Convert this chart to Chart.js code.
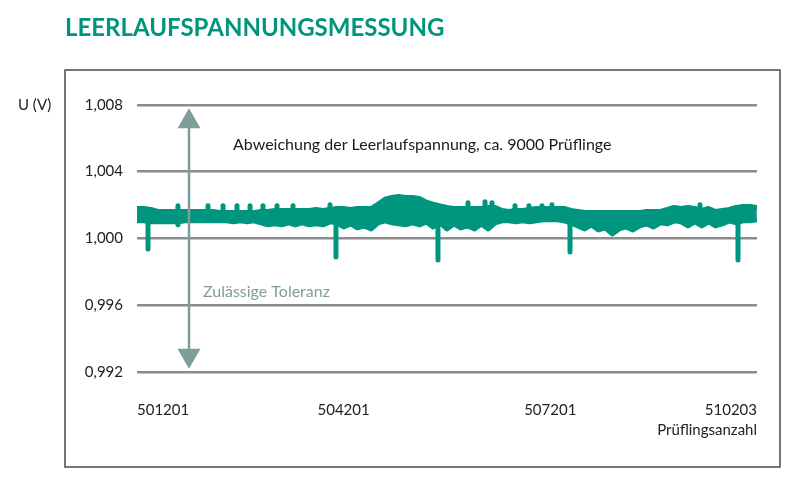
<!DOCTYPE html>
<html lang="de">
<head>
  <meta charset="UTF-8">
  <title>Leerlaufspannungsmessung</title>
  <script src="https://cdn.jsdelivr.net/npm/chart.js"></script>
  <style>
    * { margin: 0; padding: 0; box-sizing: border-box; }
    body { background: #fff; }
    #chart { display: block; }
  </style>
</head>
<body>
  <canvas id="chart" width="800" height="490"></canvas>
  <script>
    // --- data (about 9000 DUTs, min/max per 100-sample bin) ---
    const firstSample = 501201;
    const lastSample = 510203;
    const binSize = 100;

    // upper edge of the noise band per bin (V)
    const bandHigh = [
      1.00179, 1.00179, 1.00173, 1.00161, 1.00161, 1.00161, 1.00161, 1.00161, 1.00161, 1.00161,
      1.00161, 1.00161, 1.00155, 1.00155, 1.00155, 1.00155, 1.00155, 1.00155, 1.00161, 1.00161,
      1.00167, 1.00167, 1.00167, 1.00167, 1.00167, 1.00167, 1.00173, 1.00167, 1.00173, 1.00179,
      1.00179, 1.00173, 1.00179, 1.00179, 1.00179, 1.00205, 1.00235, 1.00245, 1.00251, 1.00245,
      1.00245, 1.00239, 1.00217, 1.00205, 1.00195, 1.00185, 1.00179, 1.00179, 1.00179, 1.00179,
      1.00179, 1.00185, 1.00185, 1.00167, 1.00161, 1.00167, 1.00167, 1.00173, 1.00179, 1.00179,
      1.00179, 1.00179, 1.00179, 1.00167, 1.00161, 1.00155, 1.00155, 1.00155, 1.00155, 1.00155,
      1.00155, 1.00155, 1.00155, 1.00155, 1.00161, 1.00161, 1.00161, 1.00173, 1.00185, 1.00179,
      1.00185, 1.00179, 1.00167, 1.00179, 1.00161, 1.00167, 1.00173, 1.00185, 1.00191, 1.00191,
      1.00185
    ];

    // lower edge of the noise band per bin (V)
    const bandLow = [
      1.00105, 1.00105, 1.00099, 1.00099, 1.00099, 1.00099, 1.00099, 1.00105, 1.00105, 1.00105,
      1.00105, 1.00105, 1.00105, 1.00105, 1.00099, 1.00105, 1.00099, 1.00105, 1.00093, 1.00081,
      1.00087, 1.00081, 1.00093, 1.00081, 1.00093, 1.00081, 1.00087, 1.00081, 1.00099, 1.00093,
      1.00069, 1.00087, 1.00063, 1.00075, 1.00057, 1.00093, 1.00105, 1.00093, 1.00087, 1.00081,
      1.00093, 1.00081, 1.00099, 1.00069, 1.00093, 1.00057, 1.00087, 1.00063, 1.00075, 1.00057,
      1.00087, 1.00057, 1.00093, 1.00105, 1.00105, 1.00099, 1.00105, 1.00099, 1.00105, 1.00111,
      1.00111, 1.00111, 1.00105, 1.00093, 1.00075, 1.00057, 1.00081, 1.00051, 1.00063, 1.00027,
      1.00057, 1.00069, 1.00051, 1.00075, 1.00087, 1.00069, 1.00093, 1.00087, 1.00105, 1.00099,
      1.00075, 1.00099, 1.00075, 1.00099, 1.00075, 1.00087, 1.00105, 1.00093, 1.00105, 1.00105,
      1.00111
    ];

    // single outliers sticking out of the band (sample no., from, to in V)
    const outSample = [
      501361, 504090, 505571, 507488, 509927,
      501796, 501796, 502232, 502450, 502653, 502842, 503030, 503234, 503466,
      504003, 506007, 506254, 506355, 506689, 506892, 507081, 507226, 509375
    ];
    const outFrom = [
      1.0011, 1.0010, 1.0009, 1.0010, 1.0010,
      1.0014, 1.0011, 1.0014, 1.0014, 1.0014, 1.0014, 1.0014, 1.0014, 1.0014,
      1.0015, 1.0015, 1.0015, 1.0015, 1.0014, 1.0015, 1.0015, 1.0015, 1.0015
    ];
    const outTo = [
      0.99937, 0.99889, 0.99871, 0.99919, 0.99871,
      1.00195, 1.00081, 1.00195, 1.00195, 1.00195, 1.00195, 1.00195, 1.00195, 1.00195,
      1.00201, 1.00213, 1.00219, 1.00213, 1.00195, 1.00195, 1.00195, 1.00201, 1.00201
    ];

    const yTicks = [0.992, 0.996, 1.000, 1.004, 1.008];
    const xTicks = [501201, 504201, 507201, 510203];

    // tolerance arrow
    const tolSample = 501956;
    const tolTop = 1.0078;
    const tolBottom = 0.9922;

    const teal = '#00957e';
    const grey = '#7f9e99';

    // build datasets
    const highPts = bandHigh.map((v, i) => ({ x: firstSample + i * binSize, y: v }));
    const lowPts = bandLow.map((v, i) => ({ x: firstSample + i * binSize, y: v }));
    const outPts = [];
    outSample.forEach((s, i) => {
      outPts.push({ x: s, y: outFrom[i] }, { x: s, y: outTo[i] }, { x: s, y: null });
    });

    const lineStyle = {
      borderColor: teal,
      backgroundColor: teal,
      borderWidth: 5,
      borderJoinStyle: 'round',
      borderCapStyle: 'round',
      pointRadius: 0,
      tension: 0
    };

    // frame, y-axis unit, notes and tolerance arrow
    const decor = {
      id: 'decor',
      beforeDraw(chart) {
        const c = chart.ctx;
        c.save();
        c.strokeStyle = '#4a4a4a';
        c.lineWidth = 1.5;
        c.strokeRect(65, 70, 715, 397);
        c.fillStyle = '#222';
        c.font = '15px Lato';
        c.textAlign = 'left';
        c.textBaseline = 'middle';
        c.fillText('U (V)', 18, chart.scales.y.getPixelForValue(1.008));
        c.restore();
      },
      afterDatasetsDraw(chart) {
        const c = chart.ctx;
        const xs = chart.scales.x, ys = chart.scales.y;
        const ax = xs.getPixelForValue(tolSample);
        const top = ys.getPixelForValue(tolTop);
        const bot = ys.getPixelForValue(tolBottom);
        const headH = 20, headW = 11.5;
        c.save();
        c.strokeStyle = grey;
        c.fillStyle = grey;
        c.lineWidth = 2.5;
        c.beginPath();
        c.moveTo(ax, top + headH - 1);
        c.lineTo(ax, bot - headH + 1);
        c.stroke();
        c.beginPath();
        c.moveTo(ax, top);
        c.lineTo(ax + headW, top + headH);
        c.lineTo(ax - headW, top + headH);
        c.closePath();
        c.fill();
        c.beginPath();
        c.moveTo(ax, bot);
        c.lineTo(ax + headW, bot - headH);
        c.lineTo(ax - headW, bot - headH);
        c.closePath();
        c.fill();

        c.font = '16px Lato';
        c.textAlign = 'left';
        c.textBaseline = 'middle';
        c.fillStyle = '#1a1a1a';
        c.fillText('Abweichung der Leerlaufspannung, ca. 9000 Prüflinge',
          xs.getPixelForValue(502595), ys.getPixelForValue(1.00563));
        c.fillStyle = grey;
        c.fillText('Zulässige Toleranz',
          xs.getPixelForValue(502159), ys.getPixelForValue(0.99682));
        c.restore();
      }
    };

    new Chart(document.getElementById('chart'), {
      type: 'line',
      data: {
        datasets: [
          Object.assign({ label: 'max', data: highPts, fill: '+1' }, lineStyle),
          Object.assign({ label: 'min', data: lowPts, fill: false }, lineStyle),
          Object.assign({ label: 'Ausreißer', data: outPts, fill: false, spanGaps: false }, lineStyle)
        ]
      },
      options: {
        responsive: false,
        animation: false,
        layout: { padding: { left: 65, right: 43, top: 12, bottom: 0 } },
        plugins: {
          legend: { display: false },
          tooltip: { enabled: false },
          title: {
            display: true,
            text: 'LEERLAUFSPANNUNGSMESSUNG',
            align: 'start',
            color: teal,
            font: { family: 'Lato', size: 24, weight: 'bold' },
            padding: { top: 2, bottom: 62 }
          }
        },
        scales: {
          x: {
            type: 'linear',
            min: firstSample,
            max: lastSample,
            afterBuildTicks: s => { s.ticks = xTicks.map(v => ({ value: v })); },
            afterFit: s => { s.height = 118; },
            grid: { display: false },
            border: { display: false },
            ticks: {
              align: 'inner',
              padding: 21,
              color: '#222',
              font: { family: 'Lato', size: 15 },
              callback: v => String(v)
            },
            title: {
              display: true,
              text: 'Prüflingsanzahl',
              align: 'end',
              color: '#222',
              font: { family: 'Lato', size: 15 },
              padding: { top: 0, bottom: 51 }
            }
          },
          y: {
            min: 0.992,
            max: 1.008,
            afterBuildTicks: s => { s.ticks = yTicks.map(v => ({ value: v })); },
            afterFit: s => { s.width = 72; },
            grid: { color: '#8c8c8c', lineWidth: 2.5, drawTicks: false },
            border: { display: false },
            ticks: {
              padding: 14,
              color: '#222',
              font: { family: 'Lato', size: 15 },
              callback: v => v.toFixed(3).replace('.', ',')
            }
          }
        }
      },
      plugins: [decor]
    });
  </script>
</body>
</html>
